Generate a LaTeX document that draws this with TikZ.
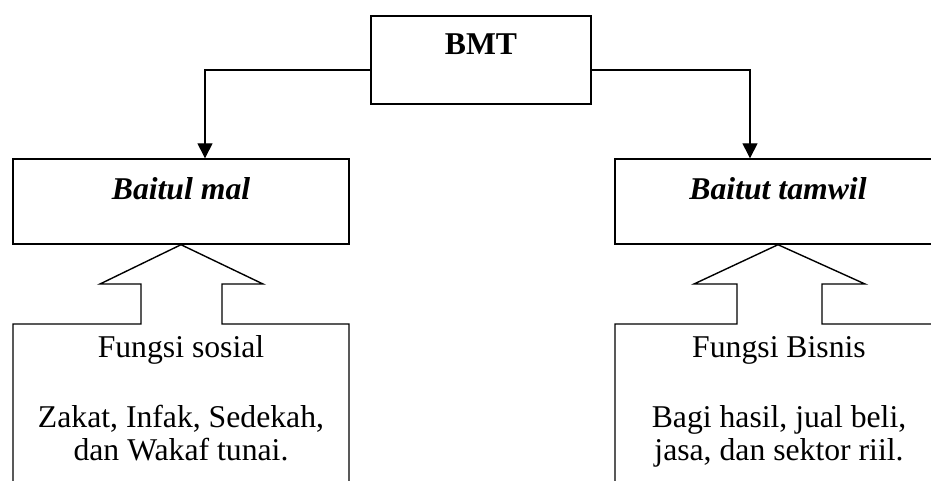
\documentclass[tikz,border=0pt]{standalone}
\usepackage{fontspec}
\setmainfont{Liberation Serif}
\usetikzlibrary{arrows.meta}
\begin{document}
\begin{tikzpicture}[x=1pt,y=-1pt,
  box/.style={draw,line width=1.4pt,inner sep=0pt,font=\fontsize{31.7}{33}\selectfont,anchor=base},
  arr/.style={line width=1.4pt,-{Triangle[width=15pt,length=15pt]}},
  outl/.style={line width=1.4pt,line join=miter},
  txt/.style={inner sep=0pt,anchor=base,font=\fontsize{31.7}{33}\selectfont}]
\useasboundingbox (0,0) rectangle (931,481);
\clip (0,0) rectangle (931,481);
% top box
\node[box,minimum width=220pt,text height=39pt,text depth=49pt,font=\fontsize{31.7}{33}\selectfont\bfseries] (bmt) at (481,55) {BMT};
% second level boxes
\node[box,minimum width=336pt,text height=41pt,text depth=44pt,font=\fontsize{31.7}{33}\selectfont\bfseries\itshape] (bm) at (181,200) {Baitul mal};
\node[box,minimum width=326pt,text height=41pt,text depth=44pt,font=\fontsize{31.7}{33}\selectfont\bfseries\itshape] (bt) at (778,200) {Baitut tamwil};
% connectors
\draw[arr] (bmt.west |- 0,70) -| (205,0 |- bm.north);
\draw[arr] (bmt.east |- 0,70) -| (750,0 |- bt.north);
% block arrows merged with lower boxes
\draw[outl] (13,495) -- (13,324) -- (141,324) -- (141,284) -- (100,284) -- (bm.south) -- (263,284) -- (222,284) -- (222,324) -- (349,324) -- (349,495);
\draw[outl] (615,495) -- (615,324) -- (737,324) -- (737,284) -- (694,284) -- (bt.south) -- (865,284) -- (822,284) -- (822,324) -- (945,324);
% texts
\node[txt] (fs) at (181,357) {Fungsi sosial};
\node[txt] (zk1) at (181,427) {Zakat, Infak, Sedekah,};
\node[txt] (zk2) at (181,460) {dan Wakaf tunai.};
\node[txt] (fb) at (779,357) {Fungsi Bisnis};
\node[txt] (bh1) at (779,427) {Bagi hasil, jual beli,};
\node[txt] (bh2) at (779,460) {jasa, dan sektor riil.};
\end{tikzpicture}
\end{document}
